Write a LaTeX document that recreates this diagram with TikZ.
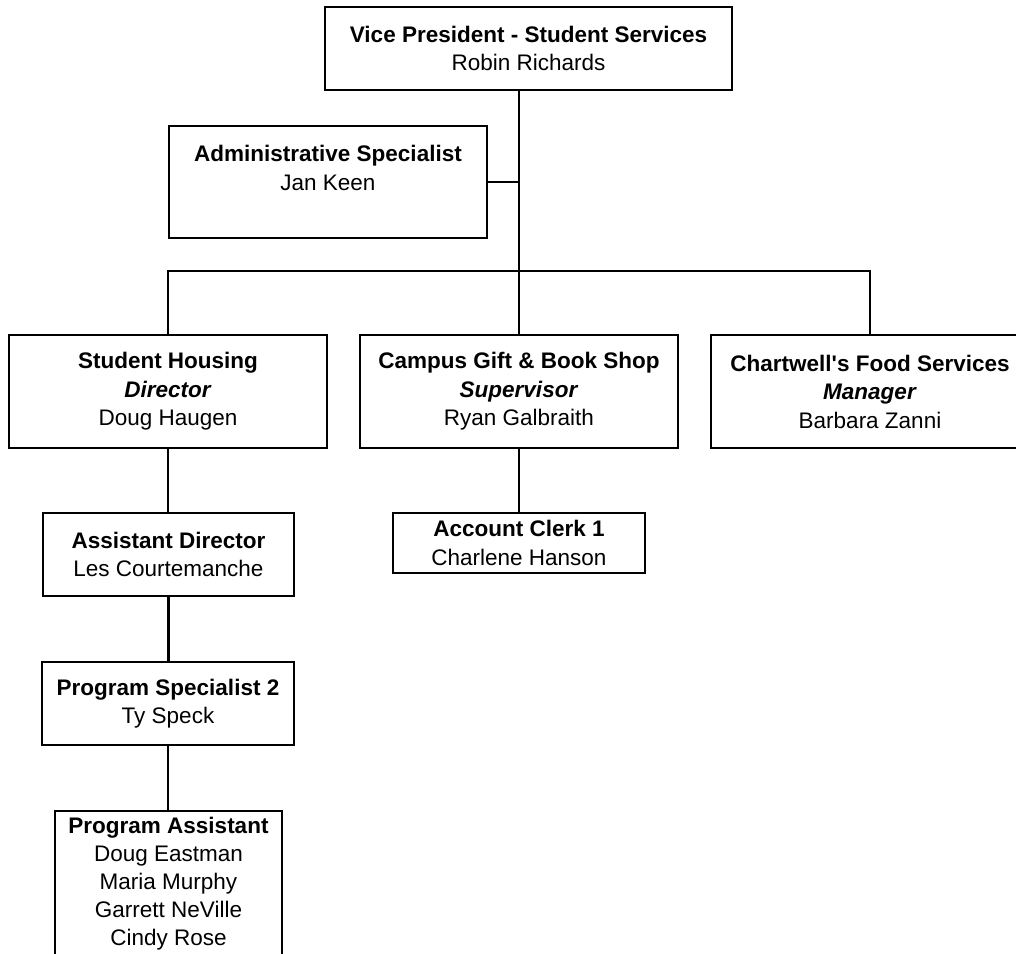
\documentclass[tikz,border=0pt]{standalone}
\usepackage{fontspec}
\setmainfont{Liberation Sans}
\begin{document}
\begin{tikzpicture}[x=1pt,y=-1pt,
  orgbox/.style={draw=black, line width=2.6pt, fill=white, align=center, inner sep=0pt,
    font=\fontsize{22.5}{28.5}\selectfont},
  link/.style={draw=black, line width=2.6pt}]
\useasboundingbox (0,0) rectangle (1016,953);
\clip (0,0) rectangle (1016,953);
\node[orgbox, minimum width=407pt, minimum height=83pt] (vp) at (528.5,48.5)
  {\textbf{Vice President - Student Services}\\Robin Richards};
\node[orgbox, minimum width=318pt, minimum height=112pt] (admin) at (328,182)
  {\textbf{Administrative Specialist}\\Jan Keen\\~};
\node[orgbox, minimum width=318pt, minimum height=113pt] (sh) at (168,391.5)
  {\textbf{Student Housing}\\\textbf{\textit{Director}}\\Doug Haugen};
\node[orgbox, minimum width=318pt, minimum height=113pt] (cg) at (519,391.5)
  {\textbf{Campus Gift \& Book Shop}\\\textbf{\textit{Supervisor}}\\Ryan Galbraith};
\node[orgbox, minimum width=318pt, minimum height=113pt] (cw) at (870,391.5)
  {\textbf{Chartwell\textquotesingle s Food Services}\\\textbf{\textit{Manager}}\\Barbara Zanni};
\node[orgbox, minimum width=251pt, minimum height=83pt] (ad) at (168.5,554.5)
  {\textbf{Assistant Director}\\Les Courtemanche};
\node[orgbox, minimum width=252pt, minimum height=60pt] (ac) at (519,543)
  {\textbf{Account Clerk 1}\\Charlene Hanson};
\node[orgbox, minimum width=252pt, minimum height=83pt] (ps) at (168,703.5)
  {\textbf{Program Specialist 2}\\Ty Speck};
\node[orgbox, minimum width=227pt, minimum height=146pt,
  font=\fontsize{22.5}{28}\selectfont] (pa) at (168.5,884)
  {\textbf{Program Assistant}\\Doug Eastman\\Maria Murphy\\Garrett NeVille\\Cindy Rose};
\coordinate (bus) at (519,271);
\draw[link] (bus |- vp.south) -- (bus);
\draw[link] (admin.east) -- (admin.east -| bus);
\draw[link] (sh.north) -- (sh.north |- bus) -- (cw.north |- bus) -- (cw.north);
\draw[link] (cg.north) -- (cg.north |- bus);
\draw[link] (sh.south) -- (sh.south |- ad.north);
\draw[link] (cg.south) -- (ac.north);
\draw[link] (ad.south) -- (ad.south |- ps.north);
\draw[link] (ps.south) -- (ps.south |- pa.north);
\end{tikzpicture}
\end{document}
